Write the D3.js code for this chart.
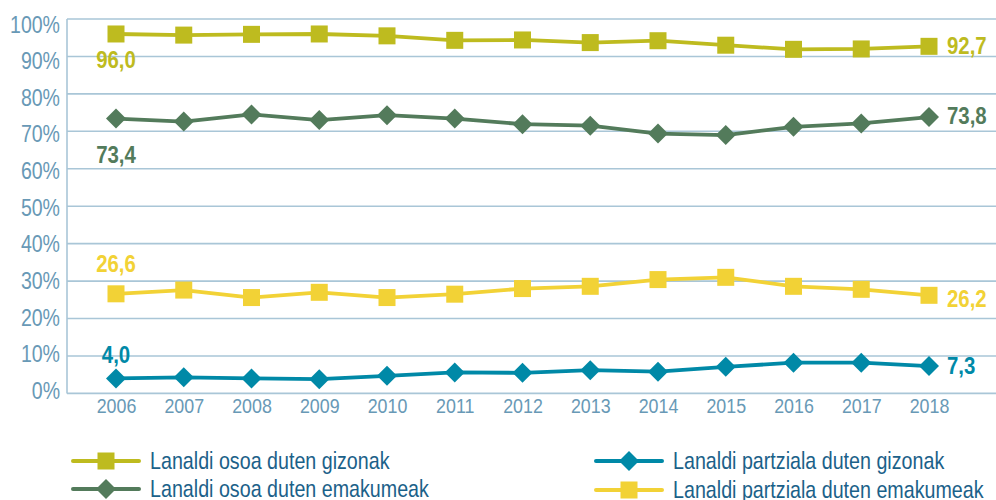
<!DOCTYPE html>
<html>
<head>
<meta charset="utf-8">
<script src="https://cdn.jsdelivr.net/npm/d3@7"></script>
<style>
  body { margin: 0; background: #fff; }
  svg { display: block; font-family: "Liberation Sans", Arial, sans-serif; }
</style>
</head>
<body>
<svg id="chart"></svg>
<script>
const years = [2006, 2007, 2008, 2009, 2010, 2011, 2012, 2013, 2014, 2015, 2016, 2017, 2018];
const fullMen = [96.0, 95.7, 95.9, 96.0, 95.5, 94.3, 94.4, 93.7, 94.2, 93.0, 91.9, 92.0, 92.7];
const fullWomen = [73.4, 72.6, 74.5, 73.0, 74.3, 73.4, 71.9, 71.5, 69.4, 69.0, 71.2, 72.1, 73.8];
const partMen = [4.0, 4.3, 4.0, 3.8, 4.7, 5.6, 5.5, 6.2, 5.8, 7.1, 8.2, 8.2, 7.3];
const partWomen = [26.6, 27.6, 25.6, 27.0, 25.6, 26.5, 28.0, 28.6, 30.4, 31.0, 28.6, 27.8, 26.2];
const seriesNames = [
    "Lanaldi osoa duten gizonak",
    "Lanaldi osoa duten emakumeak",
    "Lanaldi partziala duten gizonak",
    "Lanaldi partziala duten emakumeak"
];
const yTicks = [0, 10, 20, 30, 40, 50, 60, 70, 80, 90, 100];

const margin = { top: 19, right: 0, bottom: 107, left: 67 };
const [svgWidth, svgHeight] = [996, 500];
const [chartWidth, chartHeight] = [svgWidth - margin.left - margin.right, 393.4 - margin.top];

const gridColor = "#a9c6d7";
const tickColor = "#6899b6";
const legendColor = "#1b6189";
const narrow = 0.85; // fake condensed face

// series + styling (label offsets relative to first / last point)
const series = [
    { name: seriesNames[0], values: fullMen, color: "#bebb1f", shape: "square", first: [0, 34], last: [18, 8] },
    { name: seriesNames[1], values: fullWomen, color: "#537b5b", shape: "diamond", first: [0, 44], last: [18, 7] },
    { name: seriesNames[2], values: partMen, color: "#0089a7", shape: "diamond", first: [0, -15], last: [18, 8] },
    { name: seriesNames[3], values: partWomen, color: "#f2d236", shape: "square", first: [0, -22], last: [18, 12] }
];

const xScale = d3.scalePoint()
    .domain(years)
    .range([49, 862]);

const yScale = d3.scaleLinear()
    .domain([0, 100])
    .range([chartHeight, 0]);

// the y labels drift slightly against the grid in the original
const yLabelShift = d3.scaleLinear().domain([0, 100]).range([-3, 5]);

const svg = d3.select("#chart")
    .attr("width", svgWidth)
    .attr("height", svgHeight);

const g = svg.append("g")
    .attr("transform", `translate(${[margin.left, margin.top]})`);

// grid
g.append("g")
    .selectAll("line")
    .data(yTicks)
    .join("line")
    .attr("x1", 0)
    .attr("x2", chartWidth)
    .attr("y1", d => yScale(d))
    .attr("y2", d => yScale(d))
    .attr("stroke", gridColor)
    .attr("stroke-width", 1.6);

g.append("line")
    .attr("x1", 0).attr("x2", 0)
    .attr("y1", 0).attr("y2", chartHeight)
    .attr("stroke", gridColor)
    .attr("stroke-width", 1.6);

// axes
const yAxis = d3.axisLeft(yScale)
    .tickValues(yTicks)
    .tickSize(0)
    .tickPadding(0)
    .tickFormat(d => d + "%");

g.append("g")
    .call(yAxis)
    .call(a => a.select(".domain").remove())
    .selectAll("text")
    .attr("x", null)
    .attr("dy", "0.35em")
    .attr("transform", d => `translate(-7,${yLabelShift(d)}) scale(${narrow},1)`)
    .attr("fill", tickColor)
    .attr("font-size", 23)
    .attr("font-family", null);

const xAxis = d3.axisBottom(xScale)
    .tickSize(0)
    .tickPadding(5);

g.append("g")
    .attr("transform", `translate(0,${chartHeight})`)
    .call(xAxis)
    .call(a => a.select(".domain").remove())
    .selectAll("text")
    .attr("transform", `scale(${narrow},1)`)
    .attr("fill", tickColor)
    .attr("font-size", 21)
    .attr("font-family", null);

const line = d3.line()
    .x((d, i) => xScale(years[i]))
    .y(d => yScale(d));

const fmt = v => d3.format(".1f")(v).replace(".", ",");

function drawMarker(sel, shape, color) {
    if (shape === "square") {
        sel.append("rect")
            .attr("x", -8.5).attr("y", -8.5)
            .attr("width", 17).attr("height", 17)
            .attr("fill", color);
    } else {
        sel.append("path")
            .attr("d", "M0,-10L10,0L0,10L-10,0Z")
            .attr("fill", color);
    }
}

series.forEach(s => {
    const sg = g.append("g");
    sg.append("path")
        .datum(s.values)
        .attr("fill", "none")
        .attr("stroke", s.color)
        .attr("stroke-width", 3.8)
        .attr("stroke-linejoin", "round")
        .attr("d", line);

    sg.selectAll("g.pt")
        .data(s.values)
        .join("g")
        .attr("class", "pt")
        .attr("transform", (d, i) => `translate(${xScale(years[i])},${yScale(d)})`)
        .each(function () { drawMarker(d3.select(this), s.shape, s.color); });

    const n = s.values.length - 1;
    sg.append("text")
        .attr("transform", `translate(${xScale(years[0]) + s.first[0]},${yScale(s.values[0]) + s.first[1]}) scale(${narrow},1)`)
        .attr("text-anchor", "middle")
        .attr("font-size", 24)
        .attr("font-weight", "bold")
        .attr("fill", s.color)
        .text(fmt(s.values[0]));

    sg.append("text")
        .attr("transform", `translate(${xScale(years[n]) + s.last[0]},${yScale(s.values[n]) + s.last[1]}) scale(${narrow},1)`)
        .attr("font-size", 24)
        .attr("font-weight", "bold")
        .attr("fill", s.color)
        .text(fmt(s.values[n]));
});

// legend
const legendPos = [[73, 461], [73, 489], [596, 461], [596, 490]];
const legend = svg.append("g");
series.forEach((s, i) => {
    const lg = legend.append("g")
        .attr("transform", `translate(${legendPos[i]})`);
    lg.append("line")
        .attr("x1", 0).attr("x2", 66)
        .attr("stroke", s.color)
        .attr("stroke-width", 4)
        .attr("stroke-linecap", "round");
    const m = lg.append("g").attr("transform", "translate(33,0)");
    drawMarker(m, s.shape, s.color);
    lg.append("text")
        .attr("transform", "translate(77,8) scale(0.82,1)")
        .attr("font-size", 24)
        .attr("fill", legendColor)
        .text(s.name);
});
</script>
</body>
</html>
